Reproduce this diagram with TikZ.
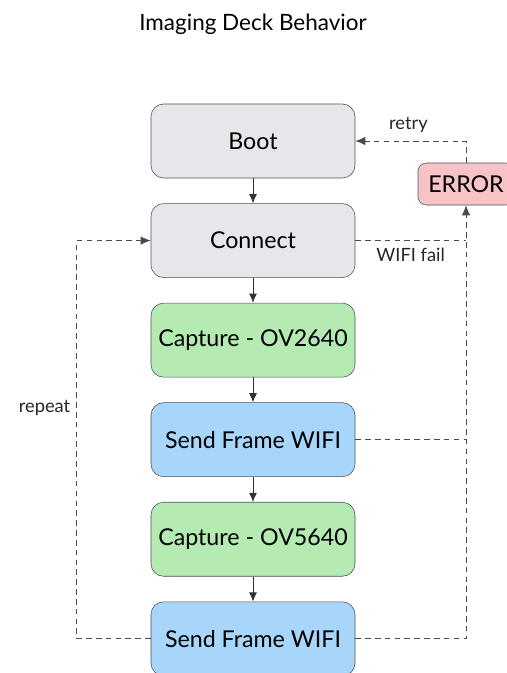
\documentclass[tikz,border=0pt]{standalone}
\usepackage{fontspec}
\setmainfont{Lato}
\usepackage{xcolor}
\usetikzlibrary{arrows.meta,positioning,calc}
\definecolor{bootgray}{HTML}{E6E7EB}
\definecolor{capgreen}{HTML}{B3EBB3}
\definecolor{sendblue}{HTML}{A8D6FA}
\definecolor{errpink}{HTML}{F8C3C6}
\definecolor{edgegray}{HTML}{4B4F57}
\definecolor{linegray}{HTML}{4A4A4A}
\tikzset{
  state/.style={draw=edgegray,rounded corners=9pt,
    minimum height=1.85cm,minimum width=5.1cm,align=center,
    font=\fontsize{16.5}{19}\selectfont},
  errbox/.style={draw=edgegray,rounded corners=6pt,fill=errpink,
    minimum height=1.05cm,minimum width=2.4cm,align=center,
    font=\fontsize{16.5}{19}\selectfont},
  steparrow/.style={-{Latex[length=2.3mm,width=2mm]},line width=0.6pt,draw=black!80},
  failline/.style={dashed,dash pattern=on 4pt off 3pt,line width=0.6pt,draw=linegray},
  failarrow/.style={failline,-{Latex[length=2.5mm,width=2.1mm]}},
  lbl/.style={font=\fontsize{13}{15}\selectfont,text=black!85}
}
\begin{document}
\begin{tikzpicture}[node distance=0.625cm]
\useasboundingbox (0,0) rectangle (12.675,-16.825);
\node[font=\fontsize{16}{19}\selectfont] (title) at (6.325,-0.6) {Imaging Deck Behavior};

% main sequence
\node[state,fill=bootgray] (boot) at (6.325,-3.525) {Boot};
\node[state,fill=bootgray,below=of boot] (conn) {Connect};
\node[state,fill=capgreen,below=of conn] (cap1) {Capture - OV2640};
\node[state,fill=sendblue,below=of cap1] (send1) {Send Frame WIFI};
\node[state,fill=capgreen,below=of send1] (cap2) {Capture - OV5640};
\node[state,fill=sendblue,below=of cap2] (send2) {Send Frame WIFI};
\node[errbox] (error) at (11.65,-4.6) {ERROR};

\draw[steparrow] (boot) -- (conn);
\draw[steparrow] (conn) -- (cap1);
\draw[steparrow] (cap1) -- (send1);
\draw[steparrow] (send1) -- (cap2);
\draw[steparrow] (cap2) -- (send2);

% error handling
\coordinate (failjoin) at (conn.east -| error.south);
\coordinate (sendjoin) at (send1.east -| error.south);
\draw[failarrow] (error.north) |- node[lbl,pos=0.76,above=2pt] {retry} (boot.east);
\draw[failline] (conn.east) -- node[lbl,below=2pt] {WIFI fail} (failjoin);
\draw[failline] (send1.east) -- (sendjoin);
\draw[failarrow] (send2.east) -| (error.south);

% loop back
\coordinate (loopcorner) at ($(send2.west)+(-1.85,0)$);
\draw[failarrow] (send2.west) -- (loopcorner) |- node[lbl,pos=0.29,left=1pt] {repeat} (conn.west);
\end{tikzpicture}
\end{document}
